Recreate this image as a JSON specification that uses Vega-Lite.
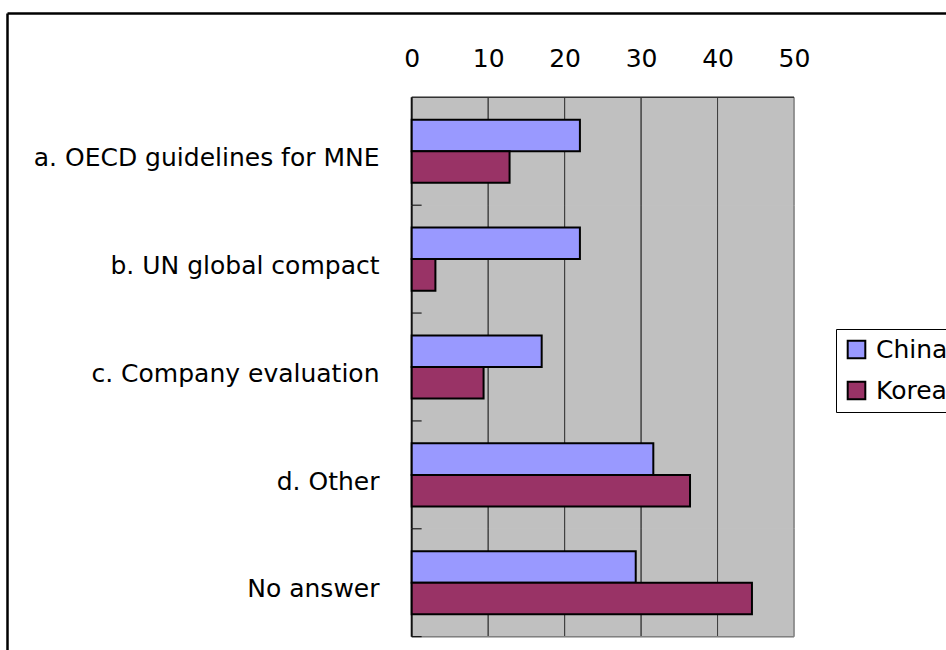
{
  "$schema": "https://vega.github.io/schema/vega-lite/v6.json",
  "width": 939,
  "height": 637,
  "autosize": {"type": "none"},
  "padding": {"left": 7, "top": 13, "right": 0, "bottom": 0},
  "background": "white",
  "config": {"view": {"stroke": null}, "font": "DejaVu Sans"},
  "data": {
    "values": [
      {"cat": "a. OECD guidelines for MNE", "country": "China", "value": 22.0},
      {"cat": "a. OECD guidelines for MNE", "country": "Korea", "value": 12.8},
      {"cat": "b. UN global compact", "country": "China", "value": 22.0},
      {"cat": "b. UN global compact", "country": "Korea", "value": 3.1},
      {"cat": "c. Company evaluation", "country": "China", "value": 17.0},
      {"cat": "c. Company evaluation", "country": "Korea", "value": 9.4},
      {"cat": "d. Other", "country": "China", "value": 31.6},
      {"cat": "d. Other", "country": "Korea", "value": 36.4},
      {"cat": "No answer", "country": "China", "value": 29.3},
      {"cat": "No answer", "country": "Korea", "value": 44.5}
    ]
  },
  "layer": [
    {
      "transform": [{"filter": "datum.country === 'China'"}],
      "mark": {"type": "rect", "fill": "#C0C0C0", "stroke": "#C0C0C0", "strokeWidth": 1},
      "encoding": {
        "x": {"datum": 0, "type": "quantitative", "title": null},
        "x2": {"datum": 50},
        "y": {"field": "cat", "type": "nominal", "title": null}
      }
    },
    {
      "transform": [{"filter": "datum.country === 'China'"}],
      "mark": {"type": "rect", "fillOpacity": 0, "stroke": "#404040", "strokeWidth": 1},
      "encoding": {
        "x": {"datum": 10, "type": "quantitative", "title": null},
        "x2": {"datum": 10},
        "y": {"field": "cat", "type": "nominal", "title": null}
      }
    },
    {
      "transform": [{"filter": "datum.country === 'China'"}],
      "mark": {"type": "rect", "fillOpacity": 0, "stroke": "#404040", "strokeWidth": 1},
      "encoding": {
        "x": {"datum": 20, "type": "quantitative", "title": null},
        "x2": {"datum": 20},
        "y": {"field": "cat", "type": "nominal", "title": null}
      }
    },
    {
      "transform": [{"filter": "datum.country === 'China'"}],
      "mark": {"type": "rect", "fillOpacity": 0, "stroke": "#404040", "strokeWidth": 1},
      "encoding": {
        "x": {"datum": 30, "type": "quantitative", "title": null},
        "x2": {"datum": 30},
        "y": {"field": "cat", "type": "nominal", "title": null}
      }
    },
    {
      "transform": [{"filter": "datum.country === 'China'"}],
      "mark": {"type": "rect", "fillOpacity": 0, "stroke": "#404040", "strokeWidth": 1},
      "encoding": {
        "x": {"datum": 40, "type": "quantitative", "title": null},
        "x2": {"datum": 40},
        "y": {"field": "cat", "type": "nominal", "title": null}
      }
    },
    {
      "transform": [{"filter": "datum.country === 'China'"}],
      "mark": {"type": "rect", "fillOpacity": 0, "stroke": "#808080", "strokeWidth": 1.5},
      "encoding": {
        "x": {"datum": 50, "type": "quantitative", "title": null},
        "x2": {"datum": 50},
        "y": {"field": "cat", "type": "nominal", "title": null}
      }
    },
    {
      "transform": [{"filter": "datum.country === 'China' && datum.cat === 'a. OECD guidelines for MNE'"}],
      "mark": {"type": "rule", "stroke": "#333333", "strokeWidth": 1.5},
      "encoding": {
        "x": {"datum": 0, "type": "quantitative", "title": null},
        "x2": {"datum": 50},
        "y": {"field": "cat", "type": "nominal", "bandPosition": 0, "title": null}
      }
    },
    {
      "transform": [{"filter": "datum.country === 'China' && datum.cat === 'No answer'"}],
      "mark": {"type": "rule", "stroke": "#808080", "strokeWidth": 1.5},
      "encoding": {
        "x": {"datum": 0, "type": "quantitative", "title": null},
        "x2": {"datum": 50},
        "y": {"field": "cat", "type": "nominal", "bandPosition": 1, "title": null}
      }
    },
    {
      "transform": [{"filter": "datum.country === 'China'"}],
      "mark": {"type": "rule", "stroke": "#000000", "strokeWidth": 1},
      "encoding": {
        "x": {"datum": 0, "type": "quantitative", "title": null},
        "x2": {"datum": 1.3},
        "y": {"field": "cat", "type": "nominal", "bandPosition": 1, "title": null}
      }
    },
    {
      "transform": [{"filter": "datum.country === 'China'"}],
      "mark": {"type": "rect", "fillOpacity": 0, "stroke": "#111111", "strokeWidth": 2},
      "encoding": {
        "x": {"datum": 0, "type": "quantitative", "title": null},
        "x2": {"datum": 0},
        "y": {"field": "cat", "type": "nominal", "title": null}
      }
    },
    {
      "mark": {"type": "bar", "stroke": "#000000", "strokeWidth": 2},
      "encoding": {
        "x": {
          "field": "value",
          "type": "quantitative",
          "title": null,
          "scale": {"domain": [-52.93, 69.88], "nice": false, "zero": false},
          "axis": {
            "orient": "top",
            "title": null,
            "values": [0, 10, 20, 30, 40, 50],
            "ticks": false,
            "grid": false,
            "domain": true,
            "domainColor": "#000000",
            "domainWidth": 2.5,
            "labelPadding": -53.7,
            "labelBaseline": "alphabetic",
            "labelFont": "DejaVu Sans",
            "labelFontSize": 25,
            "labelColor": "#000000",
            "labelOverlap": false,
            "labelFlush": false
          }
        },
        "y": {
          "field": "cat",
          "type": "nominal",
          "title": null,
          "scale": {
            "domain": ["a. OECD guidelines for MNE", "b. UN global compact", "c. Company evaluation", "d. Other", "No answer"],
            "paddingInner": 0,
            "paddingOuter": 0.4524,
            "align": 0.8637
          },
          "axis": {
            "orient": "left",
            "title": null,
            "ticks": false,
            "grid": false,
            "domain": true,
            "domainColor": "#000000",
            "domainWidth": 2.5,
            "labelPadding": -372,
            "labelLimit": 700,
            "labelAlign": "right",
            "labelBaseline": "alphabetic",
            "labelOffset": 14.7,
            "labelFont": "DejaVu Sans",
            "labelFontSize": 25,
            "labelColor": "#000000"
          }
        },
        "yOffset": {
          "field": "country",
          "type": "nominal",
          "scale": {"domain": ["China", "Korea"], "paddingInner": 0, "paddingOuter": 0.707}
        },
        "color": {
          "field": "country",
          "type": "nominal",
          "scale": {"domain": ["China", "Korea"], "range": ["#9999FF", "#993366"]},
          "legend": {
            "title": null,
            "orient": "none",
            "legendX": 829,
            "legendY": 316,
            "symbolType": "square",
            "symbolSize": 310,
            "symbolStrokeColor": "#000000",
            "symbolStrokeWidth": 2,
            "labelFont": "DejaVu Sans",
            "labelFontSize": 25,
            "labelColor": "#000000",
            "labelOffset": 7,
            "rowPadding": 14,
            "padding": 8,
            "strokeColor": "#000000",
            "fillColor": "#FFFFFF"
          }
        }
      }
    }
  ]
}
